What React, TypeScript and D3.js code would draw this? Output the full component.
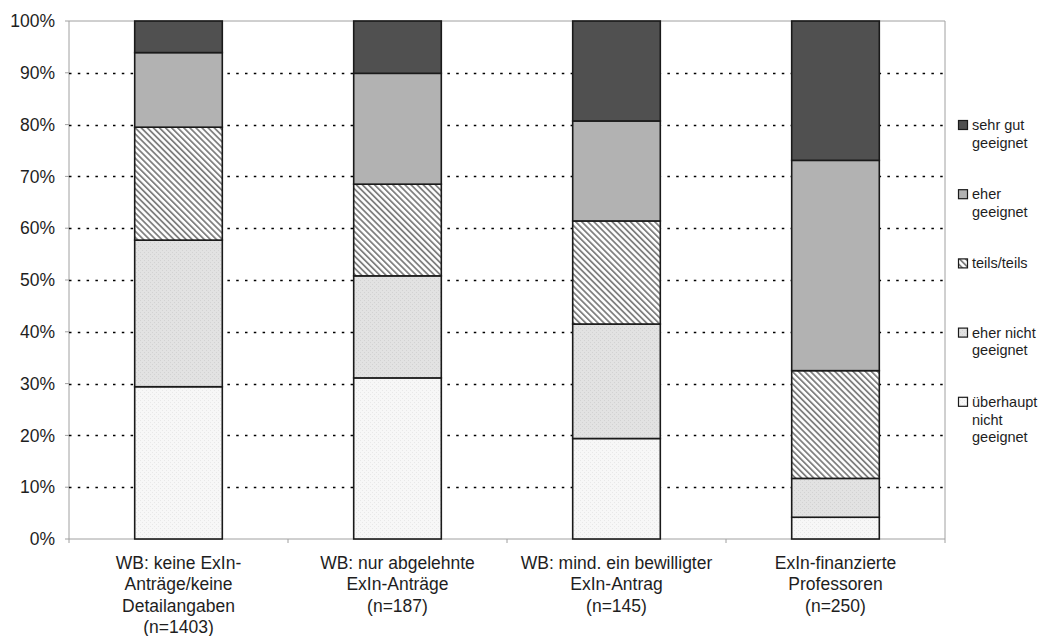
import React from "react";
import * as d3 from "d3";

const categories = ["g1", "g2", "g3", "g4"];
const categoryLabels: string[][] = [
  ["WB: keine ExIn-", "Anträge/keine", "Detailangaben", "(n=1403)"],
  ["WB: nur abgelehnte", "ExIn-Anträge", "(n=187)"],
  ["WB: mind. ein bewilligter", "ExIn-Antrag", "(n=145)"],
  ["ExIn-finanzierte", "Professoren", "(n=250)"],
];
const seriesKeys = ["ueberhaupt", "eherNicht", "teils", "eher", "sehrGut"];
const seriesLabels: string[][] = [
  ["überhaupt", "nicht", "geeignet"],
  ["eher nicht", "geeignet"],
  ["teils/teils"],
  ["eher", "geeignet"],
  ["sehr gut", "geeignet"],
];
const ueberhaupt = [29.4, 31.1, 19.4, 4.2];
const eherNicht = [28.3, 19.7, 22.1, 7.5];
const teils = [21.8, 17.7, 19.9, 20.8];
const eher = [14.4, 21.4, 19.3, 40.6];
const sehrGut = [6.1, 10.1, 19.3, 26.9];
const yTicks = [0, 10, 20, 30, 40, 50, 60, 70, 80, 90, 100];

const fills = ["url(#pUeb)", "url(#pEN)", "url(#pHatch)", "#b2b2b2", "#505050"];

export default function App() {
  const left = 69, right = 945, top = 21, bottom = 539;
  const x = d3.scaleBand<string>().domain(categories).range([left, right]).paddingInner(0.6).paddingOuter(0.3);
  const y = d3.scaleLinear().domain([0, 100]).range([bottom, top]);
  const rows = categories.map((c, i) => ({
    cat: c,
    ueberhaupt: ueberhaupt[i],
    eherNicht: eherNicht[i],
    teils: teils[i],
    eher: eher[i],
    sehrGut: sehrGut[i],
  }));
  const stacked = d3.stack<any>().keys(seriesKeys)(rows);
  const step = x.step();
  const font = "'Liberation Sans', Arial, sans-serif";
  const txt = "#1e1e1e";

  return (
    <svg width={1040} height={636} style={{ position: "absolute", left: 0, top: 0, background: "#fff" }} fontFamily={font}>
      <defs>
        <pattern id="pUeb" width={4} height={4} patternUnits="userSpaceOnUse">
          <rect width={4} height={4} fill="#f7f7f7" />
          <rect x={0} y={0} width={1} height={1} fill="#e8e8e8" />
          <rect x={2} y={2} width={1} height={1} fill="#e8e8e8" />
        </pattern>
        <pattern id="pEN" width={4} height={4} patternUnits="userSpaceOnUse">
          <rect width={4} height={4} fill="#e2e2e2" />
          <rect x={0} y={0} width={1} height={1} fill="#d2d2d2" />
          <rect x={2} y={2} width={1} height={1} fill="#d2d2d2" />
        </pattern>
        <pattern id="pHatch" width={4.3} height={4.3} patternUnits="userSpaceOnUse" patternTransform="rotate(-45)">
          <rect width={4.3} height={4.3} fill="#ffffff" />
          <rect x={0} y={0} width={1.8} height={4.3} fill="#808080" />
        </pattern>
      </defs>
      {/* frame */}
      <line x1={left} x2={right} y1={top} y2={top} stroke="#a0a0a0" />
      <line x1={right} x2={right} y1={top} y2={bottom} stroke="#a0a0a0" />
      <line x1={left} x2={left} y1={top} y2={bottom} stroke="#a0a0a0" />
      <line x1={left} x2={right} y1={bottom} y2={bottom} stroke="#a0a0a0" />
      {/* gridlines */}
      {yTicks.filter(t => t > 0 && t < 100).map(t => (
        <line key={"g" + t} x1={left} x2={right} y1={Math.round(y(t)) + 0.5} y2={Math.round(y(t)) + 0.5}
          stroke="#000" strokeWidth={1.6} strokeDasharray="2.5,6.3" />
      ))}
      {/* y ticks */}
      {yTicks.map(t => (
        <g key={"t" + t}>
          <line x1={left - 4} x2={left} y1={y(t)} y2={y(t)} stroke="#a0a0a0" />
          <text x={55} y={y(t)} dy="0.35em" textAnchor="end" fontSize={17.5} fill={txt}>{t}%</text>
        </g>
      ))}
      {/* x ticks */}
      {d3.range(categories.length + 1).map(i => (
        <line key={"xt" + i} x1={left + i * step} x2={left + i * step} y1={bottom} y2={bottom + 4} stroke="#a0a0a0" />
      ))}
      {/* bars */}
      {stacked.map((s, si) => (
        <g key={s.key}>
          {s.map((d, i) => (
            <rect key={i} x={x(categories[i])!} y={y(d[1])} width={x.bandwidth()} height={y(d[0]) - y(d[1])}
              fill={fills[si]} stroke="#1a1a1a" strokeWidth={1.6} />
          ))}
        </g>
      ))}
      {/* category labels */}
      {categoryLabels.map((lines, i) => (
        <text key={"c" + i} x={x(categories[i])! + x.bandwidth() / 2} y={569} textAnchor="middle" fontSize={17.5} fill={txt}>
          {lines.map((l, j) => (
            <tspan key={j} x={x(categories[i])! + x.bandwidth() / 2} dy={j === 0 ? 0 : 21.4}>{l}</tspan>
          ))}
        </text>
      ))}
      {/* legend */}
      {seriesKeys.map((k, si) => {
        const idx = seriesKeys.length - 1 - si;
        const cy = 125 + si * 69.2;
        return (
          <g key={"l" + k}>
            <rect x={958.5} y={cy - 4.5} width={9} height={9} fill={fills[idx]} stroke="#1a1a1a" strokeWidth={1.2} />
            <text x={972} y={cy} fontSize={14.5} fill={txt}>
              {seriesLabels[idx].map((l, j) => (
                <tspan key={j} x={972} dy={j === 0 ? "0.35em" : 17.7}>{l}</tspan>
              ))}
            </text>
          </g>
        );
      })}
    </svg>
  );
}
